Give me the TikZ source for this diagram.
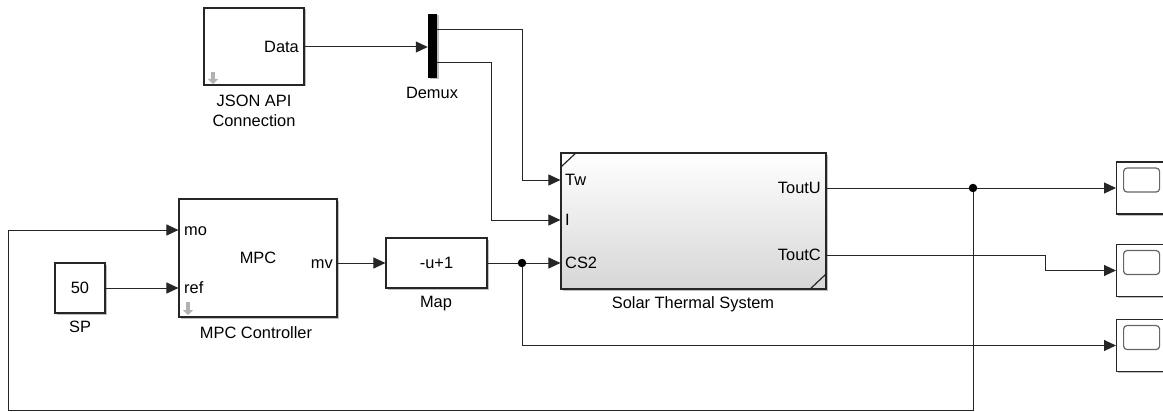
\documentclass[tikz,border=0pt]{standalone}
\usepackage{fontspec}
\setmainfont{Liberation Sans}
\usetikzlibrary{arrows.meta,calc,shadows}
\newcommand{\blkfont}{\fontsize{16.4}{19.5}\selectfont}

\begin{document}
\begin{tikzpicture}[
    x=1pt, y=-1pt, % one unit = one pixel of the model canvas
    % Blocks
    blk/.style    = {draw=black!85, line width=1.1pt, fill=white, inner sep=0pt,
                     drop shadow={shadow xshift=1.5pt, shadow yshift=-1.5pt, fill=black, opacity=0.25}},
    bar/.style    = {fill=black, inner sep=0pt,
                     drop shadow={shadow xshift=1.5pt, shadow yshift=-1.5pt, fill=black, opacity=0.25}},
    screen/.style = {draw=black!60, line width=1.2pt, rounded corners=3.5pt, fill=white,
                     minimum width=36pt, minimum height=24pt, inner sep=0pt},
    % Texts
    lab/.style    = {inner sep=0pt, font=\blkfont, text height=11.8pt, text depth=0pt},
    port/.style   = {lab},
    % Signals
    wire/.style   = {line width=1pt, draw=black!85},
    sig/.style    = {wire, -{Triangle[length=12pt,width=11pt]}},
    dot/.style    = {circle, fill=black, inner sep=0pt, minimum size=8.5pt},
    corner/.style = {line width=1.2pt, draw=black!85},
    icon/.style   = {draw=black!30, line width=3.5pt, -{Triangle[length=5pt,width=10pt]}}
  ]
  \useasboundingbox (0,0) rectangle (1163,412);

  % ===== Data source =====
  \node[blk, minimum width=100pt, minimum height=77pt] (json) at (254,46.5) {};
  \node[port, anchor=east] (pData) at (299,47) {Data};
  \draw[icon] (213,72) -- (213,84);
  \node[inner sep=0pt, font=\blkfont, align=center, anchor=north] at (254,95) {JSON API\\Connection};

  \node[bar, minimum width=9pt, minimum height=64pt] (demux) at (432.5,46) {};
  \node[lab] at (432,93) {Demux};
  \coordinate (dmA) at ($(demux.north east)!0.25!(demux.south east)$);
  \coordinate (dmB) at ($(demux.north east)!0.75!(demux.south east)$);

  % ===== Plant =====
  \node[blk, top color=white, bottom color=black!16, minimum width=265pt, minimum height=136pt] (sts) at (693.5,221) {};
  \draw[corner] (sts.north west) ++(0,15) -- ++(16,-15);
  \draw[corner] (sts.south east) ++(-17,0) -- ++(17,-16);
  \node[port, anchor=west] (pTw) at (565,180) {Tw};
  \node[port, anchor=west] (pI)  at (565,220) {I};
  \node[port, anchor=west] (pCS) at (565,263) {CS2};
  \node[port, anchor=east] (pTU) at (821,188) {ToutU};
  \node[port, anchor=east] (pTC) at (821,255) {ToutC};
  \node[lab] at (693,303) {Solar Thermal System};

  % ===== Controller =====
  \node[blk, lab, minimum width=158pt, minimum height=118pt] (mpc) at (258,258) {MPC};
  \node[port, anchor=west] (pMo)  at (184,230) {mo};
  \node[port, anchor=west] (pRef) at (184,288) {ref};
  \node[port, anchor=east] (pMv)  at (333,263) {mv};
  \draw[icon] (188,302) -- (188,315);
  \node[lab] at (256,333) {MPC Controller};

  \node[blk, lab, minimum size=50pt] (sp) at (80,288) {50};
  \node[lab] at (80,327) {SP};

  \node[blk, lab, minimum width=101pt, minimum height=50pt] (map) at (436.5,263) {-u+1};
  \node[lab] at (436,302) {Map};

  % ===== Scopes =====
  \foreach \nm/\yy in {scU/188, scC/270.5, scS/345.5}{
    \node[blk, minimum width=60pt, minimum height=52pt, anchor=west] (\nm) at (1116,\yy) {};
    \node[screen, anchor=north west] at ([shift={(7pt,-6pt)}]\nm.north west) {};
  }

  % ===== Signals =====
  \node[dot] (jMap) at (522,263) {};
  \node[dot] (jU)   at (973,188) {};

  \draw[sig] (json.east |- pData) -- (demux.west |- pData);
  \draw[sig] (dmA) -- ++(85,0) |- (sts.west |- pTw);
  \draw[sig] (dmB) -- ++(54,0) |- (sts.west |- pI);
  \draw[sig] (sp.east) -- (mpc.west |- pRef);
  \draw[sig] (mpc.east |- pMv) -- (map.west);
  \draw[wire] (map.east) -- (jMap);
  \draw[sig] (jMap) -- (sts.west |- pCS);
  \draw[sig] (jMap) |- (scS.west);
  \draw[wire] (sts.east |- pTU) -- (jU);
  \draw[sig] (jU) -- (scU.west);
  \draw[sig] (sts.east |- pTC) -- ++(219,0) |- (scC.west);
  % feedback of ToutU to the measured output
  \draw[sig] (jU) -- ++(0,222) -- ++(-965,0) |- (mpc.west |- pMo);

\end{tikzpicture}
\end{document}
